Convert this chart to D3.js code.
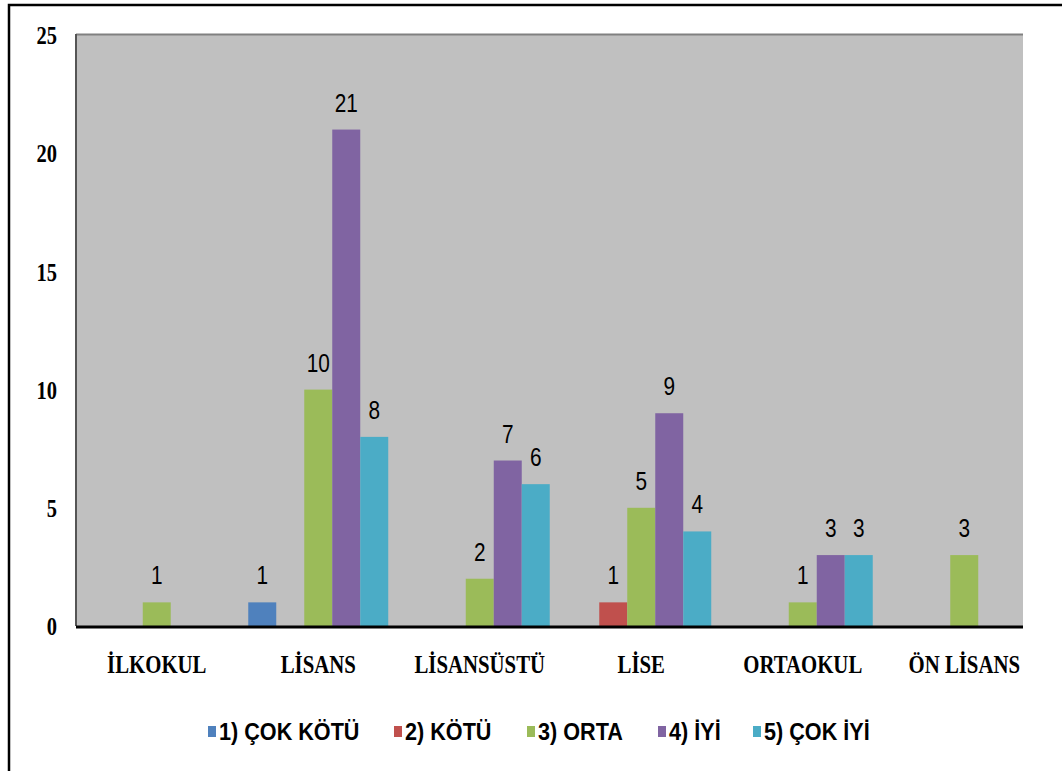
<!DOCTYPE html>
<html>
<head>
<meta charset="utf-8">
<script src="https://cdn.jsdelivr.net/npm/d3@7"></script>
<style>
  body { margin: 0; background: #fff; }
</style>
</head>
<body>
<script>
var categories = ["İLKOKUL", "LİSANS", "LİSANSÜSTÜ", "LİSE", "ORTAOKUL", "ÖN LİSANS"];
var series = ["1) ÇOK KÖTÜ", "2) KÖTÜ", "3) ORTA", "4) İYİ", "5) ÇOK İYİ"];
var colors = ["#4f81bd", "#c0504d", "#9bbb59", "#8064a2", "#4bacc6"];
var cokKotu = [0, 1, 0, 0, 0, 0];
var kotu    = [0, 0, 0, 1, 0, 0];
var orta    = [1, 10, 2, 5, 1, 3];
var iyi     = [0, 21, 7, 9, 3, 0];
var cokIyi  = [0, 8, 6, 4, 3, 0];
var yTicks = [0, 5, 10, 15, 20, 25];

var values = [cokKotu, kotu, orta, iyi, cokIyi];

var width = 1062, height = 771;
var plot = {left: 76, top: 34, right: 1023, bottom: 626};

var svg = d3.select("body")
  .append("svg")
  .attr("width", width)
  .attr("height", height);

// outer frame
svg.append("rect")
  .attr("x", 9).attr("y", 5)
  .attr("width", 1070).attr("height", 790)
  .attr("fill", "none")
  .attr("stroke", "#000")
  .attr("stroke-width", 2.5);

// scales
var yScale = d3.scaleLinear().domain([0, 25]).range([plot.bottom, 35]);
var xScale = d3.scaleBand().domain(categories).range([plot.left, 1045]);
var xInner = d3.scaleBand().domain(series).range([0, 140]);

// plot background
svg.append("rect")
  .attr("x", plot.left).attr("y", plot.top)
  .attr("width", plot.right - plot.left).attr("height", plot.bottom - plot.top)
  .attr("fill", "#c0c0c0");
svg.append("line")
  .attr("x1", plot.left).attr("x2", plot.right)
  .attr("y1", plot.top + 0.5).attr("y2", plot.top + 0.5)
  .attr("stroke", "#808080").attr("stroke-width", 2);
svg.append("line")
  .attr("x1", plot.left).attr("x2", plot.left)
  .attr("y1", plot.top).attr("y2", plot.bottom)
  .attr("stroke", "#555").attr("stroke-width", 2);

// bars
var barData = [];
values.forEach(function(arr, s) {
  arr.forEach(function(v, c) {
    if (v > 0) barData.push({cat: categories[c], ser: series[s], s: s, v: v});
  });
});

function barX(d) {
  return xScale(d.cat) + xScale.bandwidth() / 2 - 70 + xInner(d.ser);
}

svg.selectAll("rect.bar")
  .data(barData)
  .enter()
  .append("rect")
  .attr("class", "bar")
  .attr("x", barX)
  .attr("y", function(d) { return yScale(d.v); })
  .attr("width", xInner.bandwidth())
  .attr("height", function(d) { return plot.bottom - yScale(d.v); })
  .attr("fill", function(d) { return colors[d.s]; });

// value labels
svg.selectAll("text.val")
  .data(barData)
  .enter()
  .append("text")
  .attr("class", "val")
  .attr("transform", function(d) {
    return "translate(" + (barX(d) + xInner.bandwidth() / 2) + "," + (yScale(d.v) - 18) + ") scale(0.8,1)";
  })
  .attr("text-anchor", "middle")
  .attr("font-family", "Liberation Sans, Arial, sans-serif")
  .attr("font-size", 26)
  .attr("fill", "#000")
  .text(function(d) { return d.v; });

// x axis line
svg.append("line")
  .attr("x1", plot.left).attr("x2", plot.right)
  .attr("y1", plot.bottom + 1).attr("y2", plot.bottom + 1)
  .attr("stroke", "#000").attr("stroke-width", 3);

// y axis
var yAxis = d3.axisLeft(yScale).tickValues(yTicks).tickSize(0).tickPadding(0);
var yg = svg.append("g")
  .attr("transform", "translate(57,0)")
  .call(yAxis);
yg.select(".domain").remove();
yg.selectAll("text")
  .attr("x", null).attr("dy", "0.35em")
  .attr("font-family", "Liberation Serif, Times New Roman, serif")
  .attr("font-weight", "bold")
  .attr("font-size", 25)
  .attr("fill", "#000")
  .attr("transform", "scale(0.82,1)")
  .attr("text-anchor", "end");

// x axis labels
var xAxis = d3.axisBottom(xScale).tickSize(0).tickPadding(0);
var xg = svg.append("g")
  .attr("transform", "translate(0,673)")
  .call(xAxis);
xg.select(".domain").remove();
xg.selectAll("text")
  .attr("y", 0).attr("dy", 0)
  .attr("font-family", "Liberation Serif, Times New Roman, serif")
  .attr("font-weight", "bold")
  .attr("font-size", 26)
  .attr("fill", "#000")
  .attr("transform", "scale(0.8,1)")
  .attr("x", 0);
xg.selectAll(".tick")
  .attr("transform", function(d) { return "translate(" + (xScale(d) + xScale.bandwidth() / 2) + ",0)"; });

// legend
var legendX = [208, 394, 527, 658, 753];
var lg = svg.selectAll("g.leg")
  .data(series)
  .enter()
  .append("g")
  .attr("class", "leg")
  .attr("transform", function(d, i) { return "translate(" + legendX[i] + ",0)"; });
lg.append("rect")
  .attr("x", 0).attr("y", 726)
  .attr("width", 8).attr("height", 11)
  .attr("fill", function(d, i) { return colors[i]; });
lg.append("text")
  .attr("transform", "translate(11,740) scale(0.94,1)")
  .attr("font-family", "Liberation Sans, Arial, sans-serif")
  .attr("font-weight", "bold")
  .attr("font-size", 23)
  .attr("fill", "#000")
  .text(function(d) { return d; });
</script>
</body>
</html>
